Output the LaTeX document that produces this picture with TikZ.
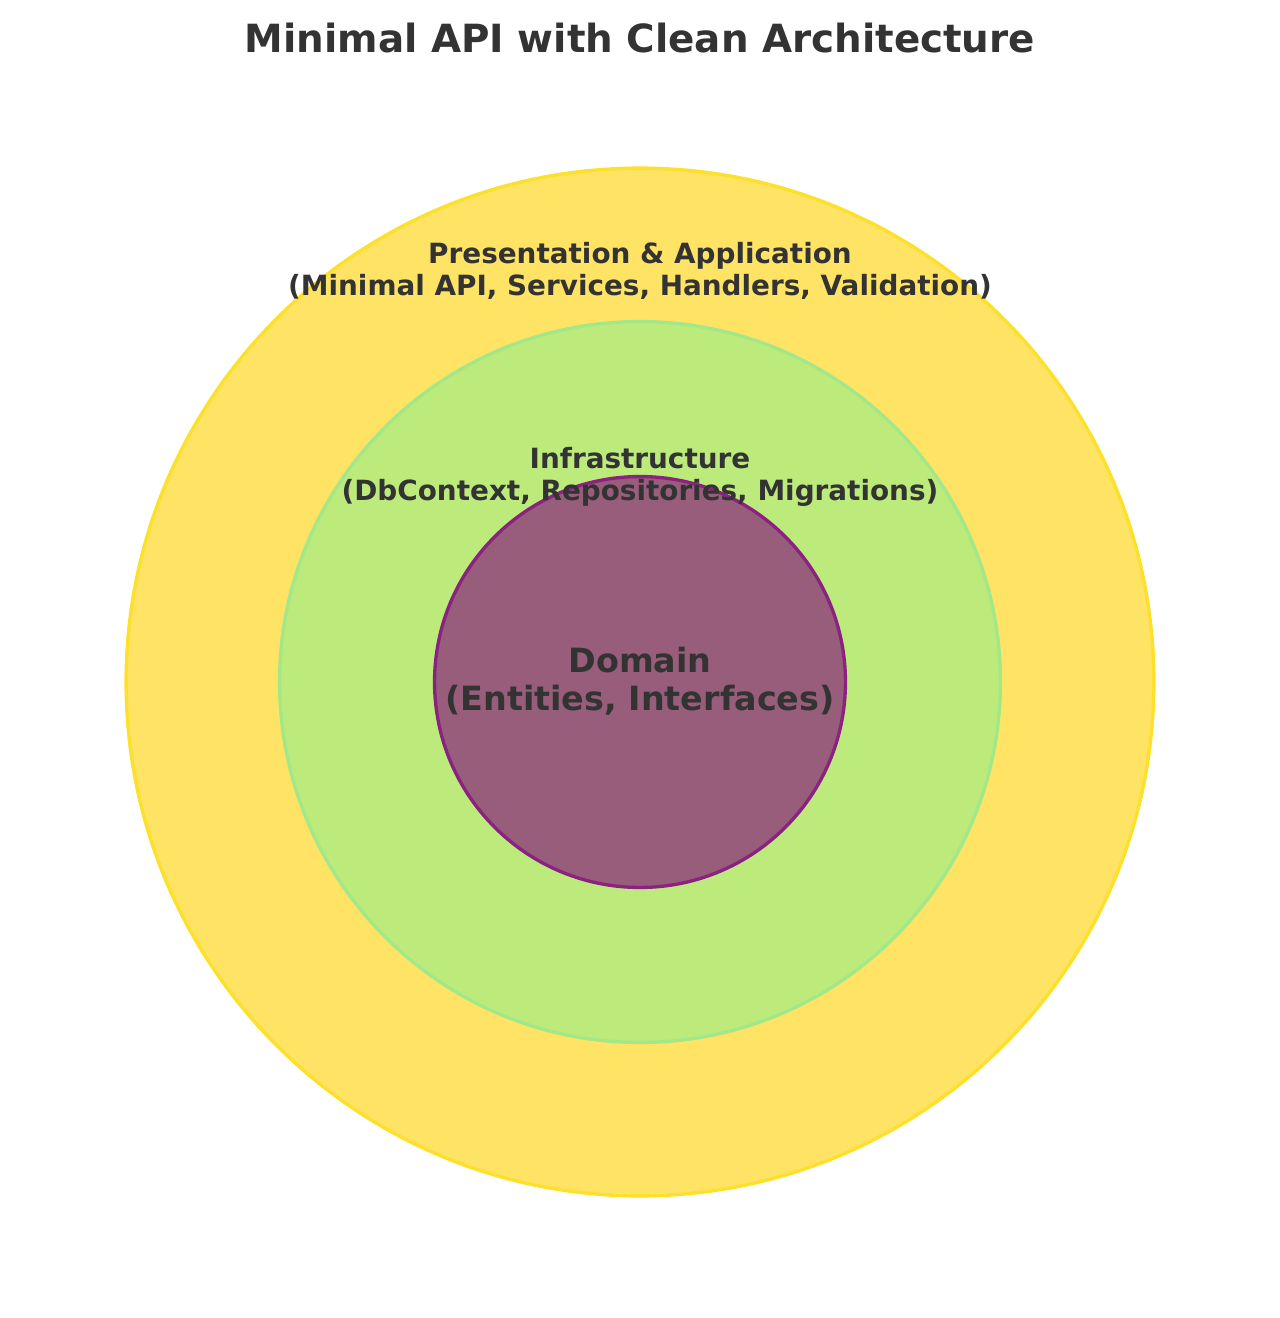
\documentclass[tikz,border=0pt]{standalone}
\usepackage{fontspec}
\setmainfont{DejaVu Sans}
\usepackage{tikz}

\definecolor{txt}{HTML}{333333}
\definecolor{presfill}{HTML}{FEE365}
\definecolor{presedge}{HTML}{FDE029}
\definecolor{infrafill}{HTML}{BCEB7C}
\definecolor{infraedge}{HTML}{A2E889}
\definecolor{domfill}{HTML}{975D7B}
\definecolor{domedge}{HTML}{8B2282}

\begin{document}
\begin{tikzpicture}[x=0.02cm, y=-0.02cm,
	layer/.style={circle, inner sep=0pt, line width=1.9pt},
	lbl/.style={align=center, text=txt, inner sep=0pt}]
	\useasboundingbox (0,0) rectangle (1280,1318);

	% the three rings, outermost first
	\node (pres) [layer, minimum size=20.56cm, draw=presedge, fill=presfill] at (640,682) {};
	\node (infra) [layer, minimum size=14.42cm, draw=infraedge, fill=infrafill] at (640,682) {};
	\node (dom) [layer, minimum size=8.22cm, draw=domedge, fill=domfill] at (640,682) {};

	% labels on top
	\node (title) [lbl, font=\fontsize{22.1}{26}\bfseries\selectfont] at (640,38) {Minimal API with Clean Architecture};
	\node (preslbl) [lbl, font=\fontsize{15.85}{17.8}\bfseries\selectfont] at (640,271) {Presentation \& Application\\(Minimal API, Services, Handlers, Validation)};
	\node (infralbl) [lbl, font=\fontsize{15.85}{18.6}\bfseries\selectfont] at (640,477) {Infrastructure\\(DbContext, Repositories, Migrations)};
	\node (domlbl) [lbl, font=\fontsize{19}{21.5}\bfseries\selectfont] at (640,681) {Domain\\(Entities, Interfaces)};

\end{tikzpicture}
\end{document}
